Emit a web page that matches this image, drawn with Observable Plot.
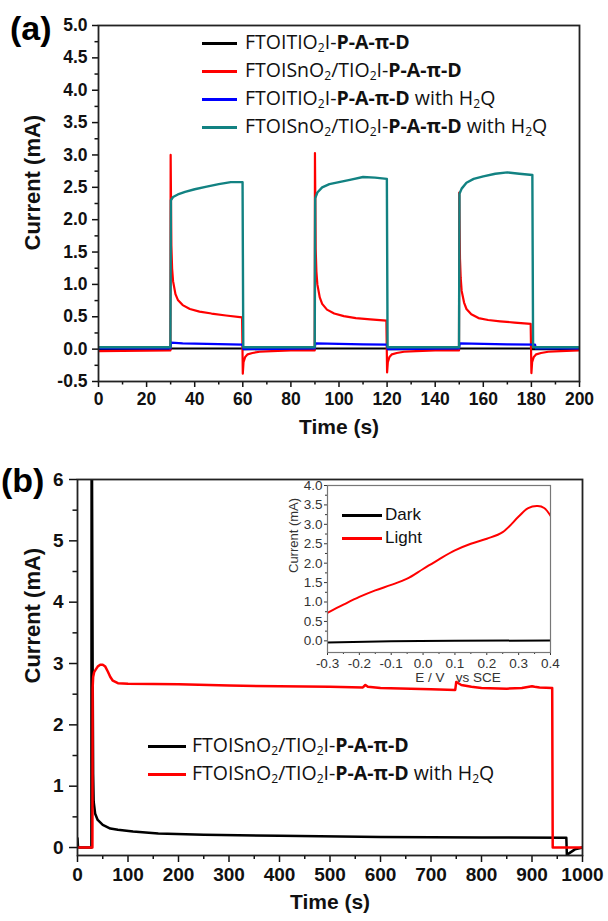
<!DOCTYPE html>
<html>
<head>
<meta charset="utf-8">
<script src="https://cdn.jsdelivr.net/npm/d3@7"></script>
<script src="https://cdn.jsdelivr.net/npm/@observablehq/plot@0.6"></script>
<style>
  html, body { margin: 0; padding: 0; background: #fff; }
  #wrap { position: relative; width: 608px; height: 921px; overflow: hidden; font-family: "Liberation Sans", Arial, sans-serif; }
  .abs { position: absolute; }
  .tag { font-weight: bold; font-size: 34px; line-height: 1; }
  .leg { position: absolute; font-family: "Open Sans", "Noto Sans", sans-serif; font-size: 19.5px; white-space: nowrap; line-height: 1; color: #111; }
  .legb { position: absolute; font-family: "Open Sans", "Noto Sans", sans-serif; font-size: 19.5px; white-space: nowrap; line-height: 1; color: #111; }
  .leg sub, .legb sub { font-size: 0.62em; vertical-align: -0.25em; line-height: 0; }
  .ileg { position: absolute; font-family: "Liberation Sans", Arial, sans-serif; font-size: 17px; white-space: nowrap; line-height: 1; color: #111; }
</style>
</head>
<body>
<div id="wrap"></div>
<script>
// ---------- Panel (a) data ----------
const aBlackT = [0, 30, 30.1, 59.9, 60, 90, 90.1, 119.9, 120, 150, 150.1, 179.9, 180, 200];
const aBlackI = [0, 0, 0.01, 0.01, 0, 0, 0.01, 0.01, 0, 0, 0.01, 0.01, 0, 0];

const aRedT = [0, 29.9, 30, 30.3, 30.6, 31, 32, 33, 35, 38, 42, 47, 53, 59.7, 60, 60.3, 61, 62, 64, 67, 72, 80, 89.9,
  90, 90.3, 90.6, 91, 92, 93, 95, 98, 102, 107, 113, 119.7, 120, 120.3, 121, 122, 124, 127, 132, 140, 149.9,
  150, 150.3, 150.6, 151, 152, 153, 155, 158, 162, 167, 173, 179.7, 180, 180.3, 181, 182, 184, 187, 192, 200];
const aRedI = [-0.03, -0.02, 3.0, 1.6, 1.25, 1.05, 0.85, 0.76, 0.68, 0.62, 0.58, 0.55, 0.52, 0.49, -0.38, -0.2, -0.12, -0.08, -0.06, -0.04, -0.03, -0.02, -0.02,
  3.03, 1.55, 1.2, 1.0, 0.8, 0.7, 0.61, 0.55, 0.51, 0.48, 0.46, 0.44, -0.36, -0.2, -0.12, -0.08, -0.06, -0.04, -0.03, -0.02, -0.02,
  2.42, 1.4, 1.1, 0.9, 0.72, 0.62, 0.54, 0.48, 0.45, 0.43, 0.41, 0.39, -0.37, -0.2, -0.12, -0.08, -0.06, -0.04, -0.03, -0.02];

const aBlueT = [0, 29.9, 30.2, 35, 45, 59.9, 60.2, 89.9, 90.2, 100, 110, 119.9, 120.2, 149.9, 150.2, 160, 170, 181.5, 181.9, 200];
const aBlueI = [0.01, 0.01, 0.1, 0.09, 0.08, 0.07, 0.0, 0.01, 0.09, 0.08, 0.075, 0.07, 0.0, 0.01, 0.09, 0.08, 0.075, 0.07, 0.01, 0.01];

const aTealT = [0, 29.9, 30.1, 31, 33, 36, 40, 45, 50, 55, 59.9, 60.2, 89.9, 90.1, 91, 93, 96, 100, 105, 110, 115, 119.9,
  120.2, 149.9, 150.1, 151, 153, 156, 160, 165, 170, 175, 180.4, 180.7, 200];
const aTealI = [0.03, 0.03, 2.3, 2.35, 2.39, 2.43, 2.47, 2.51, 2.55, 2.58, 2.58, 0.03, 0.03, 2.33, 2.42, 2.5, 2.55, 2.58, 2.62, 2.66, 2.65, 2.63,
  0.03, 0.03, 2.4, 2.48, 2.57, 2.63, 2.67, 2.71, 2.73, 2.71, 2.69, 0.03, 0.03];

const aXTicks = [0, 20, 40, 60, 80, 100, 120, 140, 160, 180, 200];
const aYTicks = [-0.5, 0, 0.5, 1, 1.5, 2, 2.5, 3, 3.5, 4, 4.5, 5];

// ---------- Panel (b) data ----------
const bBlackT = [0, 1, 3, 27.5, 28, 30, 31, 32, 35, 40, 50, 65, 80, 110, 160, 250, 400, 600, 800, 968, 969, 985, 1000];
const bBlackI = [0.15, 0.02, 0, 0, 8, 2.9, 1.2, 0.75, 0.55, 0.45, 0.37, 0.31, 0.29, 0.26, 0.23, 0.21, 0.19, 0.17, 0.165, 0.16, -0.12, -0.03, 0];

const bRedT = [0, 29.5, 30, 31, 33, 36, 40, 45, 50, 55, 60, 65, 70, 80, 100, 200, 300, 400, 500, 565, 570, 575, 600, 700, 748,
  750, 752, 760, 780, 800, 850, 880, 900, 905, 915, 940, 941, 1000];
const bRedI = [0, 0, 2.6, 2.78, 2.86, 2.9, 2.95, 2.98, 2.98, 2.95, 2.87, 2.78, 2.72, 2.68, 2.67, 2.66, 2.64, 2.63, 2.62, 2.61, 2.65, 2.62, 2.6, 2.58, 2.57,
  2.7, 2.69, 2.65, 2.62, 2.6, 2.59, 2.6, 2.63, 2.62, 2.61, 2.6, 0, 0];

const bXTicks = [0, 100, 200, 300, 400, 500, 600, 700, 800, 900, 1000];
const bYTicks = [0, 1, 2, 3, 4, 5, 6];

// ---------- Inset data ----------
const insV = [-0.3, -0.25, -0.2, -0.15, -0.1, -0.05, 0, 0.05, 0.1, 0.15, 0.2, 0.25, 0.3, 0.33, 0.36, 0.38, 0.4];
const insLight = [0.72, 0.93, 1.13, 1.3, 1.44, 1.6, 1.85, 2.1, 2.33, 2.5, 2.63, 2.8, 3.2, 3.42, 3.47, 3.42, 3.22];
const insDarkV = [-0.3, -0.1, 0.1, 0.4];
const insDark = [-0.04, -0.01, 0.0, 0.01];
const insXTicks = [-0.3, -0.2, -0.1, 0, 0.1, 0.2, 0.3, 0.4];
const insYTicks = [0, 0.5, 1, 1.5, 2, 2.5, 3, 3.5, 4];

const RED = "#ff0000", BLUE = "#0000ff", TEAL = "#128282", BLACK = "#000000";

const zip = (t, v) => t.map((d, i) => ({x: d, y: v[i]}));
const minorOf = (ticks) => {
  const out = [];
  for (let i = 0; i < ticks.length - 1; i++) out.push(+((ticks[i] + ticks[i + 1]) / 2).toFixed(6));
  return out;
};
const fmt1 = d => d3.format(".1f")(d).replace("−", "-");

const wrap = document.getElementById("wrap");
function place(node, left, top) {
  node.style.position = "absolute";
  node.style.left = left + "px";
  node.style.top = top + "px";
  wrap.appendChild(node);
}

// ---------- Panel (a) ----------
const plotA = Plot.plot({
  width: 608, height: 445,
  marginTop: 25, marginBottom: 64, marginLeft: 98, marginRight: 29,
  x: {domain: [0, 200]},
  y: {domain: [-0.5, 5]},
  style: {background: "transparent", fontFamily: "'Liberation Sans', Arial, sans-serif", color: "#111"},
  marks: [
    Plot.axisX({ticks: aXTicks, tickSize: 6, tickPadding: 5, tickFormat: d => String(d), fontSize: 17.5, fontWeight: "bold", strokeWidth: 1.5, label: null}),
    Plot.axisX({ticks: minorOf(aXTicks), tickSize: 3.5, tickFormat: () => "", strokeWidth: 1.5, label: null}),
    Plot.axisY({ticks: aYTicks, tickSize: 6, tickPadding: 5, tickFormat: fmt1, fontSize: 17.5, fontWeight: "bold", strokeWidth: 1.5, label: null}),
    Plot.axisY({ticks: minorOf(aYTicks), tickSize: 3.5, tickFormat: () => "", strokeWidth: 1.5, label: null}),
    Plot.line(zip(aBlackT, aBlackI), {x: "x", y: "y", stroke: BLACK, strokeWidth: 2.2, clip: true}),
    Plot.line(zip(aRedT, aRedI), {x: "x", y: "y", stroke: RED, strokeWidth: 2.2, clip: true}),
    Plot.line(zip(aBlueT, aBlueI), {x: "x", y: "y", stroke: BLUE, strokeWidth: 2.2, clip: true}),
    Plot.line(zip(aTealT, aTealI), {x: "x", y: "y", stroke: TEAL, strokeWidth: 2.4, clip: true}),
    Plot.frame({stroke: "#222", strokeWidth: 1.8}),
    Plot.text(["Time (s)"], {frameAnchor: "bottom", dy: 52, fontSize: 21, fontWeight: "bold", fill: "#111"}),
    Plot.text(["Current (mA)"], {frameAnchor: "left", dx: -66, dy: 47, rotate: -90, fontSize: 22, fontWeight: "bold", fill: "#111"})
  ]
});
place(plotA, 0, 0);

// ---------- Panel (b) ----------
const plotB = Plot.plot({
  width: 608, height: 476,
  marginTop: 34, marginBottom: 66, marginLeft: 77, marginRight: 26,
  x: {domain: [0, 1000]},
  y: {domain: [-0.13, 6]},
  style: {background: "transparent", fontFamily: "'Liberation Sans', Arial, sans-serif", color: "#111"},
  marks: [
    Plot.axisX({ticks: bXTicks, tickSize: 7, tickPadding: 5, tickFormat: d => String(d), fontSize: 19, fontWeight: "bold", strokeWidth: 1.5, label: null}),
    Plot.axisX({ticks: minorOf(bXTicks), tickSize: 4, tickFormat: () => "", strokeWidth: 1.5, label: null}),
    Plot.axisY({ticks: bYTicks, tickSize: 8, tickPadding: 6, tickFormat: d => String(d), fontSize: 19, fontWeight: "bold", strokeWidth: 1.5, label: null}),
    Plot.axisY({ticks: minorOf(bYTicks), tickSize: 4.5, tickFormat: () => "", strokeWidth: 1.5, label: null}),
    Plot.line(zip(bBlackT, bBlackI), {x: "x", y: "y", stroke: BLACK, strokeWidth: 2.5, clip: true}),
    Plot.line(zip(bRedT, bRedI), {x: "x", y: "y", stroke: RED, strokeWidth: 2.5, clip: true}),
    Plot.frame({stroke: "#222", strokeWidth: 1.8}),
    Plot.text(["Time (s)"], {frameAnchor: "bottom", dy: 53, fontSize: 21, fontWeight: "bold", fill: "#111"}),
    Plot.text(["Current (mA)"], {frameAnchor: "left", dx: -45, dy: 16, rotate: -90, fontSize: 22, fontWeight: "bold", fill: "#111"})
  ]
});
place(plotB, 0, 445);

// ---------- Inset ----------
const plotI = Plot.plot({
  width: 300, height: 215,
  marginTop: 10, marginBottom: 38, marginLeft: 57, marginRight: 20,
  x: {domain: [-0.3, 0.4]},
  y: {domain: [-0.3, 4.0]},
  style: {background: "transparent", fontFamily: "'Liberation Sans', Arial, sans-serif", color: "#333"},
  marks: [
    Plot.axisX({ticks: insXTicks, tickSize: 3, tickPadding: 3, tickFormat: fmt1, fontSize: 13.5, strokeWidth: 1, label: null}),
    Plot.axisX({ticks: minorOf(insXTicks), tickSize: 2, tickFormat: () => "", strokeWidth: 1, label: null}),
    Plot.axisY({ticks: insYTicks, tickSize: 3, tickPadding: 2, tickFormat: fmt1, fontSize: 13.5, strokeWidth: 1, label: null}),
    Plot.axisY({ticks: minorOf(insYTicks), tickSize: 2, tickFormat: () => "", strokeWidth: 1, label: null}),
    Plot.line(zip(insDarkV, insDark), {x: "x", y: "y", stroke: BLACK, strokeWidth: 2, curve: "monotone-x", clip: true}),
    Plot.line(zip(insV, insLight), {x: "x", y: "y", stroke: RED, strokeWidth: 2, curve: "catmull-rom", clip: true}),
    Plot.frame({stroke: "#777", strokeWidth: 1.2}),
    Plot.text(["E / V\u00a0\u00a0 vs SCE"], {frameAnchor: "bottom", dx: 19, dy: 29, fontSize: 13.5, fill: "#333"}),
    Plot.text(["Current (mA)"], {frameAnchor: "left", dx: -34, dy: 4, rotate: -90, fontSize: 13, fill: "#333"})
  ]
});
place(plotI, 270, 475);

// ---------- Tags ----------
function tag(txt, left, top) {
  const d = document.createElement("div");
  d.className = "abs tag";
  d.textContent = txt;
  d.style.left = left + "px"; d.style.top = top + "px";
  wrap.appendChild(d);
}
tag("(a)", 10, 11);
tag("(b)", 1, 463);

// ---------- Legends ----------
const labelA = [
  ["FTOITIO<sub>2</sub>I-<b>P-A-π-D</b>", BLACK],
  ["FTOISnO<sub>2</sub>/TIO<sub>2</sub>I-<b>P-A-π-D</b>", RED],
  ["FTOITIO<sub>2</sub>I-<b>P-A-π-D</b> with H<sub>2</sub>Q", BLUE],
  ["FTOISnO<sub>2</sub>/TIO<sub>2</sub>I-<b>P-A-π-D</b> with H<sub>2</sub>Q", TEAL]
];
const rowsA = [43, 71, 99, 127];
const labelB = [
  ["FTOISnO<sub>2</sub>/TIO<sub>2</sub>I-<b>P-A-π-D</b>", BLACK],
  ["FTOISnO<sub>2</sub>/TIO<sub>2</sub>I-<b>P-A-π-D</b> with H<sub>2</sub>Q", RED]
];
const rowsB = [746, 774];

function legend(items, rows, x0, x1, xt, cls) {
  items.forEach(([html, color], i) => {
    const sw = document.createElement("div");
    sw.style.position = "absolute";
    sw.style.left = x0 + "px"; sw.style.width = (x1 - x0) + "px";
    sw.style.top = (rows[i] - 1.5) + "px"; sw.style.height = "3px";
    sw.style.background = color;
    wrap.appendChild(sw);
    const t = document.createElement("div");
    t.className = cls;
    t.innerHTML = html;
    t.style.left = xt + "px"; t.style.top = rows[i] + "px";
    t.style.transform = "translateY(-55%)";
    wrap.appendChild(t);
  });
}
legend(labelA, rowsA, 202, 237, 245, "leg");
legend(labelB, rowsB, 148, 186, 192, "legb");
legend([["Dark", BLACK], ["Light", RED]], [515, 538], 342, 382, 385, "ileg");
</script>
</body>
</html>
